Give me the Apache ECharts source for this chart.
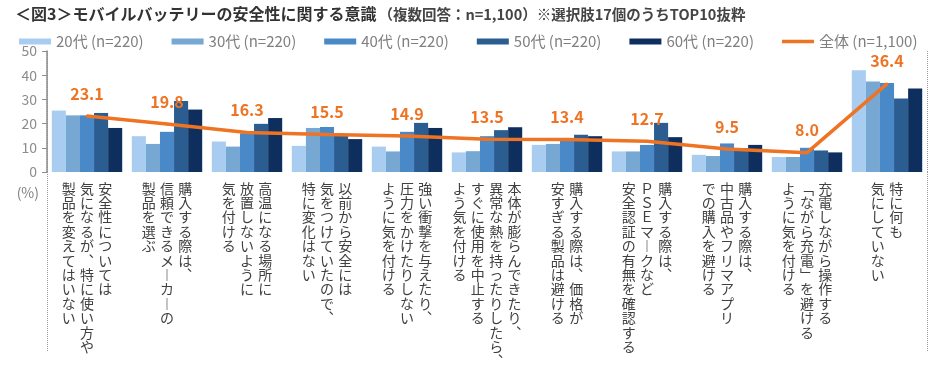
<!DOCTYPE html>
<html><head><meta charset="utf-8">
<script src="https://cdn.jsdelivr.net/npm/echarts@6/dist/echarts.min.js"></script>
<style>html,body{margin:0;padding:0;background:#fff}#c{width:934px;height:368px}</style>
</head><body><div id="c"></div>
<script>
const categories = [
  "安全性については\n気になるが、特に使い方や\n製品を変えてはいない",
  "購入する際は、\n信頼できるメーカーの\n製品を選ぶ",
  "高温になる場所に\n放置しないように\n気を付ける",
  "以前から安全には\n気をつけていたので、\n特に変化はない",
  "強い衝撃を与えたり、\n圧力をかけたりしない\nように気を付ける",
  "本体が膨らんできたり、\n異常な熱を持ったりしたら、\nすぐに使用を中止する\nよう気を付ける",
  "購入する際は、価格が\n安すぎる製品は避ける",
  "購入する際は、\nＰＳＥマークなど\n安全認証の有無を確認する",
  "購入する際は、\n中古品やフリマアプリ\nでの購入を避ける",
  "充電しながら操作する\n「ながら充電」を避ける\nように気を付ける",
  "特に何も\n気にしていない"
];
const seriesNames = ["20代 (n=220)","30代 (n=220)","40代 (n=220)","50代 (n=220)","60代 (n=220)","全体 (n=1,100)"];
const age20 = [25.4,14.8,12.6,10.8,10.5,8.1,11.2,8.5,7.1,6.2,42.0];
const age30 = [23.4,11.6,10.5,18.2,8.5,8.6,11.6,8.5,6.6,6.2,37.4];
const age40 = [23.4,16.6,16.0,18.6,16.6,14.8,13.1,11.2,11.8,10.0,36.8];
const age50 = [24.4,29.3,19.9,15.0,20.3,17.3,15.4,20.3,9.9,8.9,30.4];
const age60 = [18.2,25.8,22.3,13.6,18.2,18.5,14.8,14.4,11.2,8.1,34.5];
const total = [23.1,19.8,16.3,15.5,14.9,13.5,13.4,12.7,9.5,8.0,36.4];
const yTicks = {min:0, max:50, interval:10};

const barColors = ['#a9cdf0','#77a7d3','#4a89c8','#2b5d91','#0e2f5e'];
const ORANGE = '#ee7424';
const FONT = '"Noto Sans CJK JP","Noto Sans",sans-serif';
const vmap = {'、':'︑','ー':'︱','「':'﹁','」':'﹂'};
function vertical(label){
  const cols = label.split('\n').map(c=>[...c]).reverse();
  const n = Math.max(...cols.map(c=>c.length));
  const rows = [];
  for(let j=0;j<n;j++){
    rows.push(cols.map(c=>{const ch=c[j]; return ch ? '{c|'+(vmap[ch]||ch)+'}' : '{c|　}';}).join(''));
  }
  return rows.join('\n');
}
const sepIdx = (i)=> i===10;
const chart = echarts.init(document.getElementById('c'));
const barData = [age20,age30,age40,age50,age60];
const series = barData.map((d,i)=>({
  name: seriesNames[i], type:'bar', data:d, barGap:'0%', barCategoryGap:'12%',
  itemStyle:{color:barColors[i]}, z:2
}));
series.push({
  name: seriesNames[5], type:'line', data: total, symbol:'circle', symbolSize:3, showSymbol:true, z:5,
  lineStyle:{color:ORANGE, width:3.5}, itemStyle:{color:ORANGE},
  label:{show:true, position:'top', distance:13, color:ORANGE, fontSize:16, fontWeight:'bold', fontFamily:FONT,
    formatter:(p)=>p.value.toFixed(1)}
});
const lineIcon = 'path://M0,1.3h32v3.4h-32z M0,0h0.01v0.01h-0.01z M31.99,5.99h0.01v0.01h-0.01z';
chart.setOption({
  animation:false,
  title:{
    left:10, top:1,
    text:'{a|＜図3＞モバイルバッテリーの安全性に関する意識}{b|（複数回答：n=1,100）※選択肢17個のうちTOP10抜粋}',
    textStyle:{rich:{
      a:{fontSize:16, fontWeight:'bold', color:'#333', fontFamily:FONT},
      b:{fontSize:14.5, color:'#444', fontFamily:FONT, padding:[1,0,0,2]}
    }}
  },
  legend:{
    left:14, top:29, itemWidth:32, itemHeight:6, itemGap:28,
    textStyle:{fontSize:15, color:'#7f7f7f', fontFamily:FONT},
    data: seriesNames.map((n,i)=> i<5 ? {name:n, icon:'rect'} : {name:n, icon:lineIcon})
  },
  grid:{left:47, right:7, top:51, bottom:194},
  xAxis:{
    type:'category', data:categories,
    axisLine:{show:false},
    axisTick:{show:true, interval:sepIdx, length:180, inside:false, lineStyle:{type:'dotted', color:'#999', width:1}},
    splitLine:{show:true, interval:sepIdx, lineStyle:{type:'dotted', color:'#999', width:1}},
    axisLabel:{interval:0, margin:9, formatter:vertical, verticalAlign:'top',
      rich:{c:{width:18.3, align:'center', fontSize:14, lineHeight:14.4, color:'#404040', fontFamily:FONT}}}
  },
  yAxis:{
    type:'value', min:yTicks.min, max:yTicks.max, interval:yTicks.interval,
    name:'(%)', nameLocation:'start', nameGap:14,
    nameTextStyle:{fontSize:14, color:'#7f7f7f', fontFamily:FONT, align:'right', padding:[0,8,0,0], verticalAlign:'top'},
    axisLine:{show:true, lineStyle:{color:'#8c8c8c', width:1.5}},
    axisTick:{show:true, length:5, lineStyle:{color:'#8c8c8c'}},
    splitLine:{show:false},
    axisLabel:{fontSize:14, color:'#8c8c8c', fontFamily:FONT, margin:10}
  },
  series: series
});
</script>
</body></html>
